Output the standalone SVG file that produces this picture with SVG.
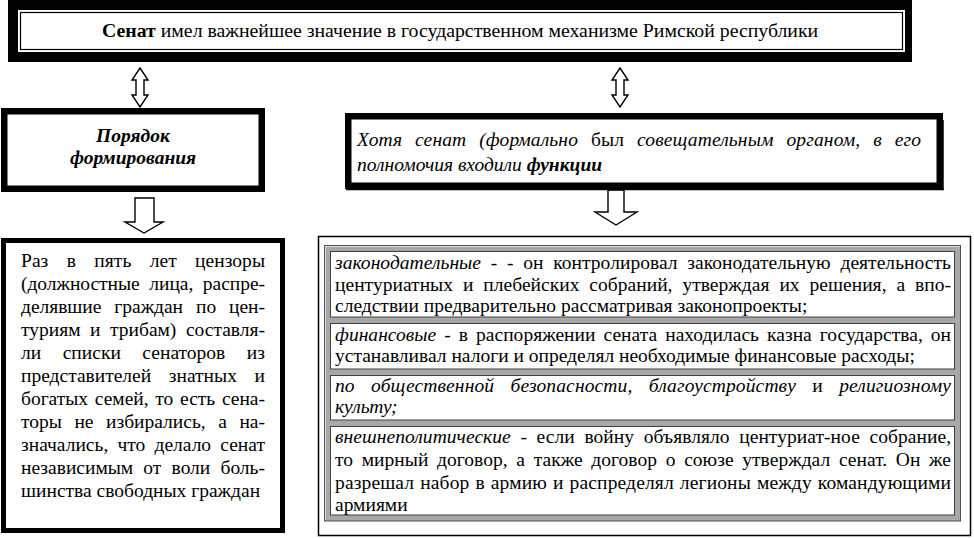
<svg xmlns="http://www.w3.org/2000/svg" width="974" height="538" viewBox="0 0 974 538">
<style>
.t { font-family: "Liberation Serif", "Times New Roman", serif; font-size: 19.5px; fill: #000; }
.i { font-style: italic; }
.b { font-weight: bold; }
.r { font-style: normal; }
.arrow { fill: #fff; stroke: #000; stroke-width: 1.4; stroke-linejoin: miter; }
.frame { fill: #fff; stroke: #000; }
.cell { fill: #fff; stroke: #404040; stroke-width: 1; }
</style>
<rect width="974" height="538" fill="#fff"/>

<g id="senat">
  <rect x="8" y="0" width="904" height="62" fill="#000"/>
  <rect x="18" y="10" width="887" height="42" fill="#fff"/>
  <rect x="20.5" y="12.5" width="882" height="37" fill="none" stroke="#000" stroke-width="1.2"/>
  <text class="t" x="102" y="37" style="font-size:19.8px"><tspan class="b">Сенат</tspan> имел важнейшее значение в государственном механизме Римской республики</text>
</g>

<g id="connectors">
  <polygon class="arrow" points="140,68 148,80 144,80 144,95 148,95 140,107 132,95 136,95 136,80 132,80"/>
  <polygon class="arrow" points="620,68 628,80 624,80 624,95 628,95 620,107 612,95 616,95 616,80 612,80"/>
  <polygon class="arrow" points="135,198 154,198 154,222 163,222 144,233 125,222 135,222"/>
  <polygon class="arrow" points="608,190 624,190 624,212 637,212 616,225 595,212 608,212"/>
</g>

<g id="poryadok">
  <rect class="frame" x="4.25" y="111.25" width="257.5" height="77.5" stroke-width="6.5"/>
  <text class="t i b" x="133" y="142" text-anchor="middle">Порядок</text>
  <text class="t i b" x="133" y="164" text-anchor="middle">формирования</text>
</g>

<g id="cenzory">
  <rect class="frame" x="3.5" y="240.5" width="279" height="290" stroke-width="5"/>
  <text class="t" x="21" y="267" style="word-spacing:13.5px" textLength="244" lengthAdjust="spacing">Раз в пять лет цензоры</text>
  <text class="t" x="21" y="290" style="word-spacing:4.8px" textLength="244" lengthAdjust="spacing">(должностные лица, распре-</text>
  <text class="t" x="21" y="313" style="word-spacing:8.1px" textLength="244" lengthAdjust="spacing">делявшие граждан по цен-</text>
  <text class="t" x="21" y="336" style="word-spacing:4.7px" textLength="244" lengthAdjust="spacing">туриям и трибам) составля-</text>
  <text class="t" x="21" y="359" style="word-spacing:16.6px" textLength="244" lengthAdjust="spacing">ли списки сенаторов из</text>
  <text class="t" x="21" y="382" style="word-spacing:12.8px" textLength="244" lengthAdjust="spacing">представителей знатных и</text>
  <text class="t" x="21" y="405" style="word-spacing:1.9px" textLength="244" lengthAdjust="spacing">богатых семей, то есть сена-</text>
  <text class="t" x="21" y="428" style="word-spacing:7.7px" textLength="244" lengthAdjust="spacing">торы не избирались, а на-</text>
  <text class="t" x="21" y="451" style="word-spacing:4.3px" textLength="244" lengthAdjust="spacing">значались, что делало сенат</text>
  <text class="t" x="21" y="474" style="word-spacing:5.3px" textLength="244" lengthAdjust="spacing">независимым от воли боль-</text>
  <text class="t" x="21" y="497">шинства свободных граждан</text>
</g>

<g id="khotya">
  <rect class="frame" x="348.25" y="116.25" width="591.5" height="69.5" stroke-width="6.5"/>
  <line x1="943" y1="120" x2="943" y2="190" stroke="#000" stroke-width="1.5"/>
  <line x1="346" y1="189.5" x2="944" y2="189.5" stroke="#000" stroke-width="1.5"/>
  <text class="t i" x="357" y="146" style="word-spacing:7.9px" textLength="564" lengthAdjust="spacing">Хотя сенат (формально <tspan class="r">был</tspan> совещательным органом, в его</text>
  <text class="t i" x="357" y="171">полномочия входили <tspan class="b">функции</tspan></text>
</g>

<g id="funktsii">
  <rect x="318.5" y="236.5" width="652" height="299" fill="#fff" stroke="#000" stroke-width="1.5"/>
  <rect x="324.5" y="245.5" width="636" height="275.5" fill="#a8a8a8" stroke="#505050" stroke-width="1"/>
  <line x1="325" y1="246.5" x2="960" y2="246.5" stroke="#e0e0e0" stroke-width="1"/>
  <line x1="325.5" y1="246" x2="325.5" y2="520" stroke="#e0e0e0" stroke-width="1"/>

  <g id="zakonodatelnye">
    <rect class="cell" x="330.5" y="251.5" width="624" height="65.5"/>
    <text class="t" x="335" y="269" style="word-spacing:4.8px" textLength="616" lengthAdjust="spacing"><tspan class="i">законодательные</tspan> - - он контролировал законодательную деятельность</text>
    <text class="t" x="335" y="290.5" style="word-spacing:5px" textLength="616" lengthAdjust="spacing">центуриатных и плебейских собраний, утверждая их решения, а впо-</text>
    <text class="t" x="335" y="312">следствии предварительно рассматривая законопроекты;</text>
  </g>
  <g id="finansovye">
    <rect class="cell" x="330.5" y="323.5" width="624" height="45.5"/>
    <text class="t" x="335" y="341" style="word-spacing:3.1px" textLength="616" lengthAdjust="spacing"><tspan class="i">финансовые</tspan> - в распоряжении сената находилась казна государства, он</text>
    <text class="t" x="335" y="362">устанавливал налоги и определял необходимые финансовые расходы;</text>
  </g>
  <g id="bezopasnost">
    <rect class="cell" x="330.5" y="375.5" width="624" height="44.5"/>
    <text class="t i" x="335" y="392" style="word-spacing:11.3px" textLength="616" lengthAdjust="spacing">по общественной безопасности, благоустройству <tspan class="r">и</tspan> религиозному</text>
    <text class="t i" x="335" y="413">культу;</text>
  </g>
  <g id="vneshnepoliticheskie">
    <rect class="cell" x="330.5" y="426.5" width="624" height="88.5"/>
    <text class="t" x="335" y="443" style="word-spacing:4.7px" textLength="616" lengthAdjust="spacing"><tspan class="i">внешнеполитические</tspan> - если войну объявляло центуриат-ное собрание,</text>
    <text class="t" x="335" y="466" style="word-spacing:3.8px" textLength="616" lengthAdjust="spacing">то мирный договор, а также договор о союзе утверждал сенат. Он же</text>
    <text class="t" x="335" y="489" style="word-spacing:1px" textLength="616" lengthAdjust="spacing">разрешал набор в армию и распределял легионы между командующими</text>
    <text class="t" x="335" y="511">армиями</text>
  </g>
</g>
</svg>
